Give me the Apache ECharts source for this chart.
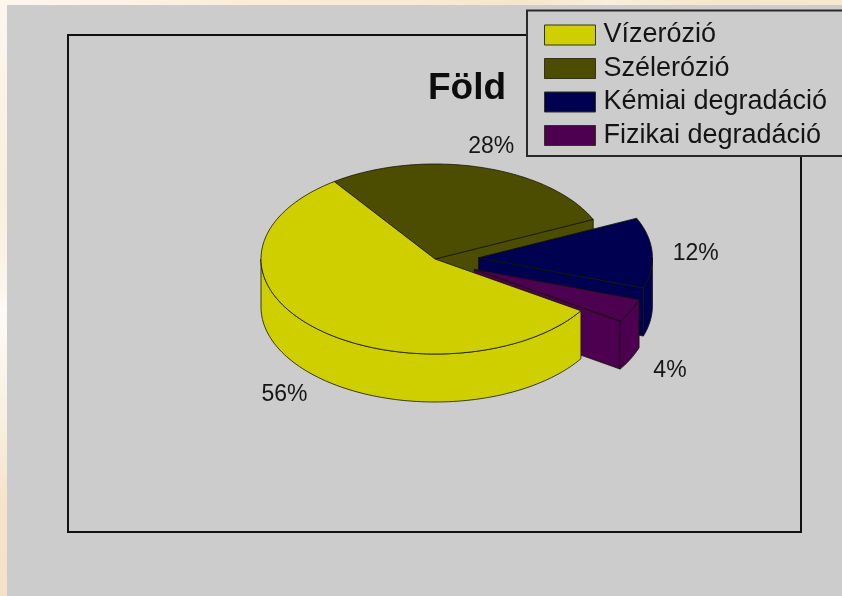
<!DOCTYPE html>
<html>
<head>
<meta charset="utf-8">
<style>
html,body{margin:0;padding:0;width:842px;height:596px;overflow:hidden;
background:linear-gradient(90deg,#fdf7ec 0%,#fbf2e2 18%,#f9edd8 30%,#f8ecd6 48%,#f3e6cb 62%,#f8efdc 72%,#f3e6ca 86%,#f5e9d0 100%);}
#side{position:absolute;left:0;top:0;width:7px;height:596px;
background:linear-gradient(180deg,#fcf6ec 0%,#f9efdd 33%,#fbf5ea 48%,#fdfbf7 52%,#f8f0e0 70%,#f5e3c8 85%,#f5e1c6 100%);}
#chart{position:absolute;left:0;top:0;width:842px;height:596px;}
</style>
<script src="https://cdn.jsdelivr.net/npm/echarts@6/dist/echarts.min.js"></script>
</head>
<body>
<div id="side"></div>
<div id="chart"></div>
<script>
var categories = ['Vízerózió', 'Szélerózió', 'Kémiai degradáció', 'Fizikai degradáció'];
var shares = [56, 28, 12, 4];
var explodedFlags = [0, 0, 1, 1];

var colors = ['#cfcf00', '#4d4d00', '#000050', '#4d0050'];
var drawOrder = [1, 2, 3, 0];
var pie = { cx: 435, cy: 259, rx: 174, ry: 95, depth: 48, startDeg: 33, explode: 0.25, labelRadius: 1.25, labelDy: 2 };

var total = shares.reduce(function (a, b) { return a + b; }, 0);

function arcPoints(cx, cy, a, b) {
  var pts = [], n = Math.max(2, Math.ceil(Math.abs(b - a) / 1.5));
  for (var i = 0; i <= n; i++) {
    var t = (a + (b - a) * i / n) * Math.PI / 180;
    pts.push([cx + pie.rx * Math.cos(t), cy + pie.ry * Math.sin(t)]);
  }
  return pts;
}

function shiftDown(p) { return [p[0], p[1] + pie.depth]; }

function renderSlice(index) {
  return function (params, api) {
    var value = api.value(0);
    var before = 0;
    for (var i = 0; i < index; i++) before += shares[i];
    var a = pie.startDeg + before / total * 360;
    var b = a + value / total * 360;
    var mid = (a + b) / 2 * Math.PI / 180;
    var off = explodedFlags[index] ? pie.explode : 0;
    var cx = pie.cx + off * pie.rx * Math.cos(mid);
    var cy = pie.cy + off * pie.ry * Math.sin(mid);
    var style = { fill: colors[index], stroke: '#141408', lineWidth: 0.8, lineJoin: 'round' };
    var children = [];
    function poly(pts) { children.push({ type: 'polygon', shape: { points: pts }, style: style }); }
    function cutWall(deg) {
      var t = deg * Math.PI / 180;
      var o = [cx + pie.rx * Math.cos(t), cy + pie.ry * Math.sin(t)];
      var c = [cx, cy];
      poly([c, o, shiftDown(o), shiftDown(c)]);
    }
    if (-Math.cos(a * Math.PI / 180) > 0) cutWall(a);
    if (Math.cos(b * Math.PI / 180) > 0) cutWall(b);
    // outer wall: the parts of the arc that face the viewer
    [0, 360].forEach(function (base) {
      var s = Math.max(a, base), e = Math.min(b, base + 180);
      if (e > s) {
        var top = arcPoints(cx, cy, s, e);
        poly(top.concat(top.map(shiftDown).reverse()));
      }
    });
    poly([[cx, cy]].concat(arcPoints(cx, cy, a, b)));
    var sinM = Math.sin(mid);
    children.push({
      type: 'text',
      style: {
        x: cx + pie.labelRadius * pie.rx * Math.cos(mid),
        y: cy + pie.labelRadius * pie.ry * sinM + (sinM > 0 ? pie.depth : 0) + pie.labelDy,
        text: value + '%',
        fill: '#161616',
        font: '23px "Liberation Sans", Arial, sans-serif',
        textAlign: 'center',
        textVerticalAlign: 'middle'
      }
    });
    return { type: 'group', children: children };
  };
}

var seriesList = categories.map(function (name, i) {
  return {
    type: 'custom',
    name: name,
    coordinateSystem: 'none',
    silent: true,
    z: 2 + drawOrder.indexOf(i),
    itemStyle: { color: colors[i] },
    data: [[shares[i]]],
    renderItem: renderSlice(i)
  };
});

var chart = echarts.init(document.getElementById('chart'), null, { renderer: 'canvas' });
chart.setOption({
  animation: false,
  backgroundColor: 'transparent',
  title: {
    text: 'Föld',
    left: 428, top: 70, padding: 0,
    textStyle: { fontFamily: '"Liberation Sans", Arial, sans-serif', fontSize: 37, fontWeight: 'bold', color: '#0c0c0c' }
  },
  legend: {
    orient: 'vertical',
    left: 527, top: 10.5,
    data: categories,
    icon: 'rect',
    itemWidth: 51, itemHeight: 20,
    itemGap: 6.5,
    padding: [11, 40, 7, 17],
    backgroundColor: '#cccccc',
    borderColor: '#2a2a2a',
    borderWidth: 2,
    selectedMode: false,
    itemStyle: { borderColor: '#33331a', borderWidth: 1 },
    textStyle: { fontFamily: '"Liberation Sans", Arial, sans-serif', fontSize: 27, lineHeight: 20, color: '#141414', padding: [0, 0, 4, 3] }
  },
  graphic: [
    { type: 'rect', z: 0, silent: true, shape: { x: 7, y: 5, width: 840, height: 600 }, style: { fill: '#cccccc' } },
    { type: 'rect', z: 1, silent: true, shape: { x: 68, y: 35, width: 733, height: 497 }, style: { fill: 'none', stroke: '#111111', lineWidth: 2 } }
  ],
  series: seriesList
});
</script>
</body>
</html>
